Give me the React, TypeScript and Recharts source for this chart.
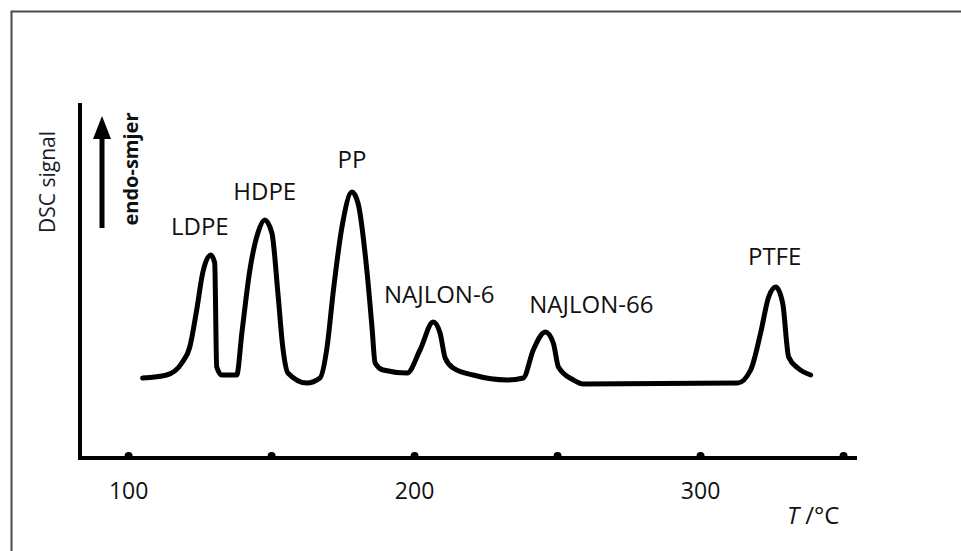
import React from "react";
import { LineChart, Line, XAxis, YAxis, ReferenceDot } from "recharts";

// DSC curve: temperature (°C) and signal (arbitrary units)
const temperature = [
  104.9, 113.3, 118.6, 121.4, 123.8, 125.9, 128.7, 130.1, 130.8, 132.6,
  137.8, 139.6, 142.4, 145.2, 147.6, 150.1, 152.2, 153.9, 155.7, 162.3,
  166.9, 169.4, 171.5, 174.6, 178.1, 180.2, 183.4, 185.1, 186.2, 189.0,
  197.4, 201.9, 206.5, 208.9, 210.7, 213.5, 220.5, 232.4, 238.0, 241.5,
  245.7, 248.5, 250.3, 255.5, 259.0, 313.0, 317.5, 321.0, 323.8, 326.3,
  328.7, 330.8, 334.0, 338.5,
];
const signal = [
  80, 83, 95, 111, 148, 185, 203, 195, 91, 83,
  83, 125, 188, 225, 238, 225, 165, 111, 85, 75,
  80, 111, 165, 231, 266, 255, 185, 131, 95, 88,
  85, 108, 136, 125, 100, 90, 83, 78, 80, 108,
  126, 115, 91, 78, 74, 75, 88, 125, 161, 171,
  155, 101, 90, 83,
];

const axisTicks = [100, 150, 200, 250, 300, 350];
const labelledTicks = [100, 200, 300];

const peakNames = ["LDPE", "HDPE", "PP", "NAJLON-6", "NAJLON-66", "PTFE"];
const peakLabelT = [124.9, 147.6, 178.1, 208.6, 261.8, 325.9];
const peakLabelS = [223, 258, 290, 155, 145, 193];

const data = temperature.map((T, i) => ({ T, S: signal[i] }));

const FONT = "'Open Sans', 'Noto Sans', 'DejaVu Sans', sans-serif";
const TEXT = "#111";

function AxisTick(props: any) {
  const { x, y, payload } = props;
  const v = payload.value;
  return (
    <g>
      <circle cx={x} cy={y - 2} r={4} fill="#000" />
      {labelledTicks.includes(v) && (
        <text
          x={x}
          y={y + 41}
          textAnchor="middle"
          fontFamily={FONT}
          fontSize={23}
          fill={TEXT}
        >
          {v}
        </text>
      )}
    </g>
  );
}

function makePeakLabel(name: string) {
  return (props: any) => (
    <text
      x={props.cx}
      y={props.cy}
      textAnchor="middle"
      fontFamily={FONT}
      fontSize={24}
      fill={TEXT}
    >
      {name}
    </text>
  );
}

export default function App() {
  return (
    <div
      style={{
        position: "absolute",
        left: 0,
        top: 0,
        width: 961,
        height: 551,
        background: "#fff",
      }}
    >
      <LineChart
        width={961}
        height={551}
        data={data}
        margin={{ top: 105, right: 106, bottom: 33, left: 70 }}
      >
        <XAxis
          type="number"
          dataKey="T"
          domain={[83, 354]}
          ticks={axisTicks}
          allowDataOverflow
          height={60}
          tickSize={0}
          tickMargin={0}
          tickLine={false}
          axisLine={{ stroke: "#000", strokeWidth: 4, strokeLinecap: "square" }}
          tick={<AxisTick />}
          interval={0}
        />
        <YAxis
          type="number"
          domain={[0, 353]}
          allowDataOverflow
          width={10}
          tick={false}
          tickLine={false}
          axisLine={{ stroke: "#000", strokeWidth: 4, strokeLinecap: "square" }}
        />
        <Line
          type="monotone"
          dataKey="S"
          stroke="#000"
          strokeWidth={5}
          dot={false}
          isAnimationActive={false}
          strokeLinejoin="round"
          strokeLinecap="round"
        />
        {peakNames.map((name, i) => (
          <ReferenceDot
            key={name}
            x={peakLabelT[i]}
            y={peakLabelS[i]}
            r={0}
            shape={makePeakLabel(name)}
          />
        ))}
      </LineChart>
      <svg
        width={961}
        height={551}
        style={{ position: "absolute", left: 0, top: 0, pointerEvents: "none" }}
      >
        <path d="M11.5 551 L11.5 11.5 L961 11.5" fill="none" stroke="#4a4a4a" strokeWidth={2} />
        <line x1={102} y1={228} x2={102} y2={134} stroke="#000" strokeWidth={5} />
        <polygon points="102,116 93,139 111,139" fill="#000" />
        <text
          transform="translate(55,182) rotate(-90)"
          textAnchor="middle"
          fontFamily={FONT}
          fontSize={21}
          fill="#1a1a2a"
        >
          DSC signal
        </text>
        <text
          transform="translate(138,169) rotate(-90)"
          textAnchor="middle"
          fontFamily={FONT}
          fontSize={20}
          fontWeight="bold"
          fill={TEXT}
        >
          endo-smjer
        </text>
        <text x={787} y={524} fontFamily={FONT} fontSize={24} fill={TEXT}>
          <tspan fontStyle="italic">T</tspan> /°C
        </text>
      </svg>
    </div>
  );
}
